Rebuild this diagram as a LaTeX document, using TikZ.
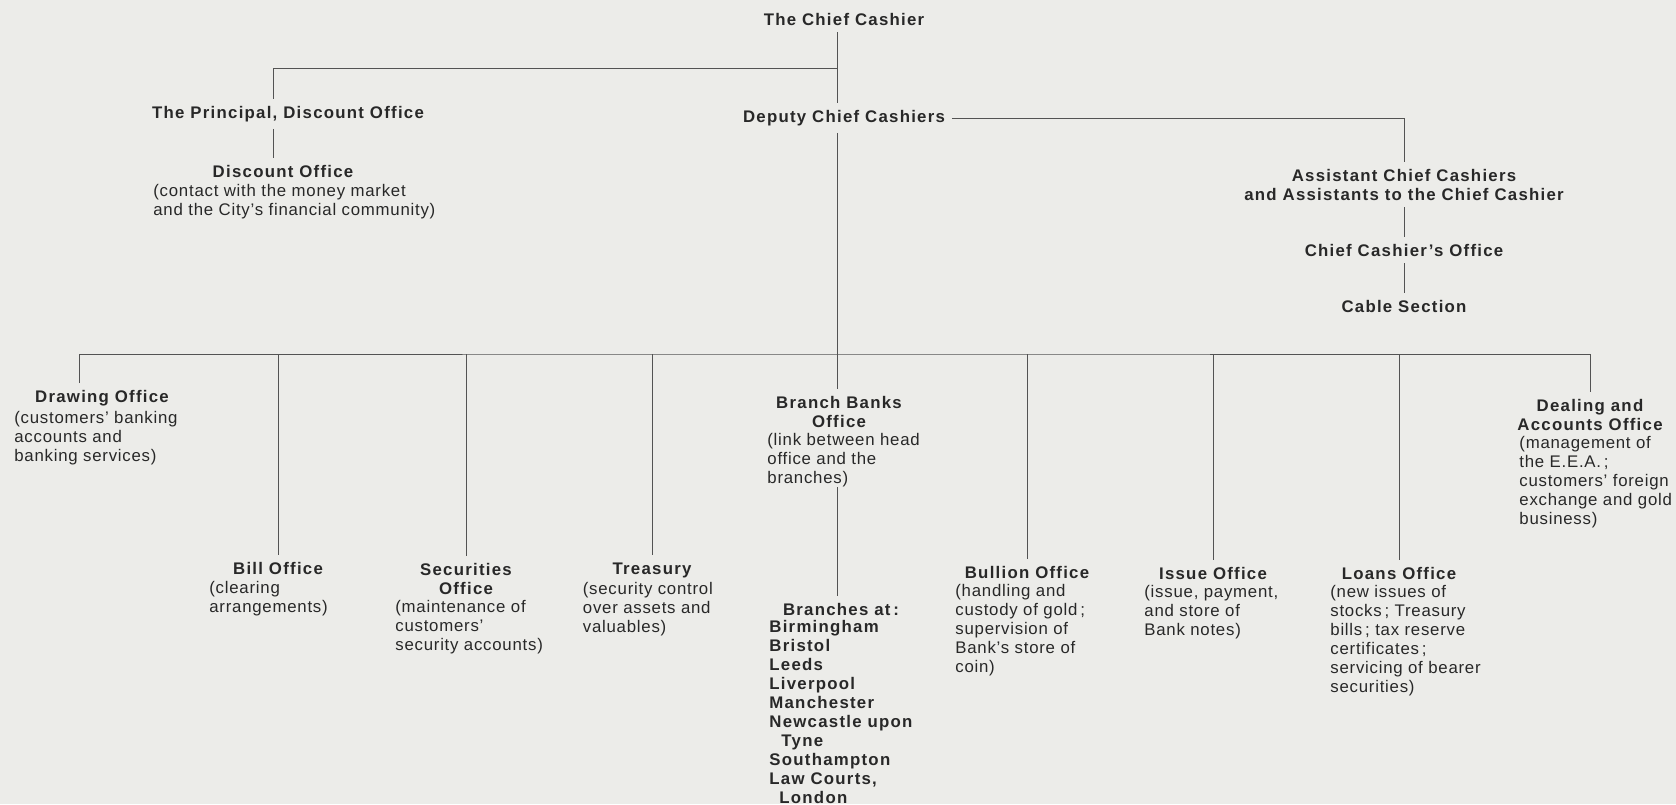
\documentclass[tikz,border=0pt]{standalone}
\usepackage{fontspec}
\setmainfont{Liberation Sans}[LetterSpace=4.5,BoldFeatures={LetterSpace=7.5}]
\definecolor{paper}{RGB}{236,236,233}
\definecolor{ink}{RGB}{40,40,40}

\begin{document}
\begin{tikzpicture}[x=0.5pt, y=-0.5pt,
  every node/.style={font=\fontsize{8.4}{9.5}\selectfont, inner sep=0pt, text=ink},
  head/.style={font=\fontsize{8.4}{9.5}\selectfont\bfseries, align=center, outer sep=3.5pt},
  note/.style={align=left, anchor=north west},
  link/.style={draw=ink!80, line width=0.45pt}]
  \useasboundingbox (0,0) rectangle (1676,804);
  \fill[paper] (0,0) rectangle (1676,804);

  % top of the office
  \node[head] (chief) at (844,19) {The Chief Cashier};
  \node[head] (deputy) at (844,118) {Deputy Chief Cashiers};
  \node[head] (principal) at (288,114) {The Principal, Discount Office};
  \node[head] (dsc) at (283,171) {Discount Office};
  \node[note] (dscd) at (153,184) {(contact with the money market\\and the City’s financial community)};
  \node[head] (assist) at (1404,184.5) {Assistant Chief Cashiers\\and Assistants to the Chief Cashier};
  \node[head] (cco) at (1404,250) {Chief Cashier’s Office};
  \node[head] (cable) at (1404,306) {Cable Section};

  \coordinate (j1) at (837.5,68);
  \coordinate (hub) at (837.5,354);

  % offices under the deputies
  \node[head] (drawing) at (102,398) {Drawing Office};
  \node[note] (drawingd) at (14,411) {(customers’ banking\\accounts and\\banking services)};
  \node[head] (bill) at (278,568) {Bill Office};
  \node[note] (billd) at (209,581) {(clearing\\arrangements)};
  \node[head] (secur) at (466,578.5) {Securities\\Office};
  \node[note] (securd) at (395,600) {(maintenance of\\customers’\\security accounts)};
  \node[head] (treas) at (652,570) {Treasury};
  \node[note] (treasd) at (582.5,582) {(security control\\over assets and\\valuables)};
  \node[head] (bbo) at (839,411.5) {Branch Banks\\Office};
  \node[note] (bbod) at (767,433) {(link between head\\office and the\\branches)};
  \node[head] (branches) at (841,609) {Branches at\,:};
  \node[note, font=\fontsize{8.4}{9.5}\selectfont\bfseries] (branchlist) at (769,620)
    {Birmingham\\Bristol\\Leeds\\Liverpool\\Manchester\\Newcastle upon\\\hspace*{6pt}Tyne\\Southampton\\Law Courts,\\\hspace*{5pt}London};
  \node[head] (bullion) at (1027,572) {Bullion Office};
  \node[note] (bulliond) at (955,584) {(handling and\\custody of gold\,;\\supervision of\\Bank’s store of\\coin)};
  \node[head] (issue) at (1213,573) {Issue Office};
  \node[note] (issued) at (1144,585) {(issue, payment,\\and store of\\Bank notes)};
  \node[head] (loans) at (1399,573) {Loans Office};
  \node[note] (loansd) at (1330,585) {(new issues of\\stocks\,; Treasury\\bills\,; tax reserve\\certificates\,;\\servicing of bearer\\securities)};
  \node[head] (dealing) at (1590,415) {Dealing and\\Accounts Office};
  \node[note] (dealingd) at (1519,436) {(management of\\the E.E.A.\,;\\customers’ foreign\\exchange and gold\\business)};

  % lines
  \draw[link] (chief.south -| hub) -- (deputy.north -| hub);
  \draw[link] (deputy.south -| hub) -- (hub);
  \draw[link] (j1) -| ([xshift=-7.5pt]principal.north);
  \draw[link] ([xshift=-7.5pt]principal.south) -- ([xshift=-7.5pt]principal.south |- dsc.north);
  \draw[link] (deputy.east) -| (assist.north);
  \draw[link] (assist) -- (cco);
  \draw[link] (cco) -- (cable);
  \draw[link] ([xshift=-11.5pt]drawing.north) |- (hub) -| (dealing.north);
  \draw[link] (bill.north |- hub) -- (bill.north);
  \draw[link] (secur.north |- hub) -- (secur.north);
  \draw[link] (treas.north |- hub) -- (treas.north);
  \draw[link] (hub) -- (hub |- bbo.north);
  \draw[link] (bbod.south -| hub) -- (hub |- branches.north);
  \draw[link] (bullion.north |- hub) -- (bullion.north);
  \draw[link] (issue.north |- hub) -- (issue.north);
  \draw[link] (loans.north |- hub) -- (loans.north);
\end{tikzpicture}
\end{document}
